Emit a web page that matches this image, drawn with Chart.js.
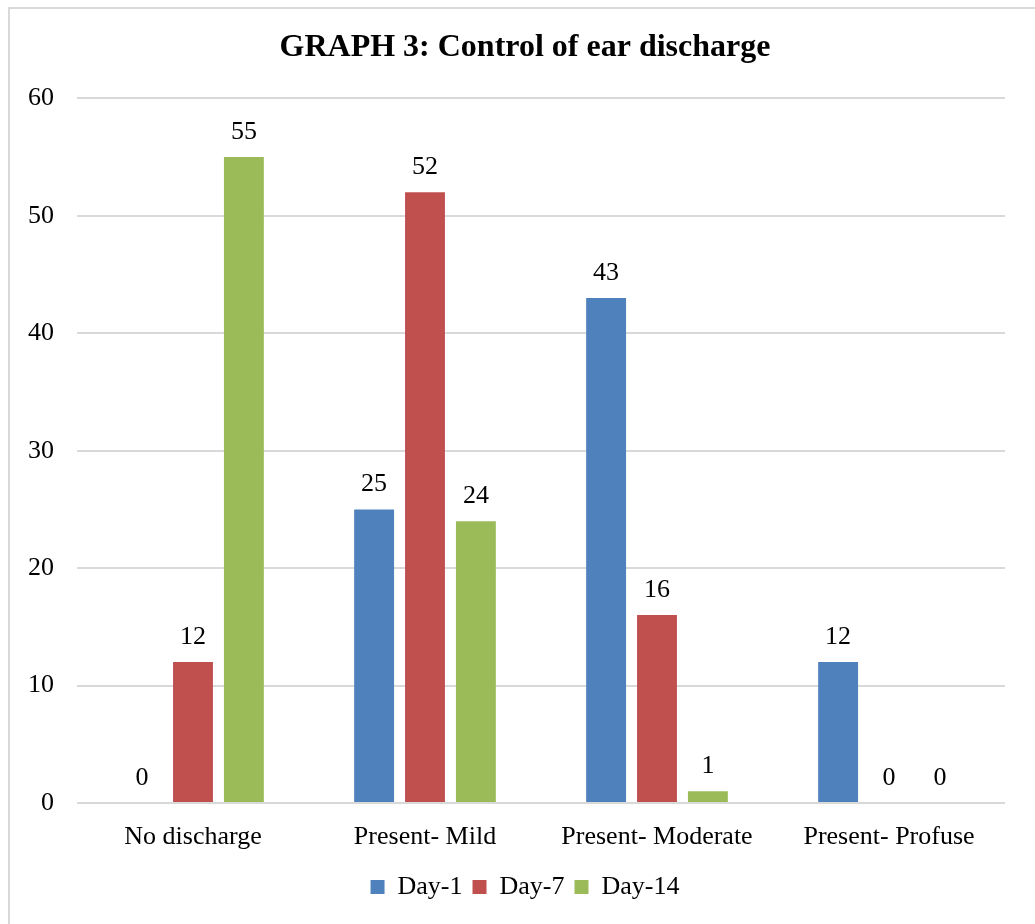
<!DOCTYPE html>
<html>
<head>
<meta charset="utf-8">
<script src="https://cdn.jsdelivr.net/npm/chart.js@4"></script>
<style>
  body { margin: 0; background: #fff; }
  #wrap { position: relative; width: 1035px; height: 924px; overflow: hidden; }
  #frame { position: absolute; left: 8px; top: 7px; width: 1100px; height: 1000px; border: 2px solid #d9d9d9; }
  #myChart { position: absolute; left: 0; top: 0; }
</style>
</head>
<body>
<div id="wrap">
  <div id="frame"></div>
  <canvas id="myChart" width="1035" height="924"></canvas>
</div>
<script>
const categories = ["No discharge", "Present- Mild", "Present- Moderate", "Present- Profuse"];
const day1 = [0, 25, 43, 12];
const day7 = [12, 52, 16, 0];
const day14 = [55, 24, 1, 0];

const serif = "'Liberation Serif', 'Times New Roman', serif";

// value labels above every bar, zeros included
const barLabels = {
    id: "barLabels",
    afterDatasetsDraw(chart) {
        const ctx = chart.ctx;
        ctx.save();
        ctx.font = "26px " + serif;
        ctx.fillStyle = "#000";
        ctx.textAlign = "center";
        ctx.textBaseline = "middle";
        chart.data.datasets.forEach((ds, i) => {
            chart.getDatasetMeta(i).data.forEach((bar, j) => {
                ctx.fillText(ds.data[j], bar.x, bar.y - 25);
            });
        });
        ctx.restore();
    }
};

const ctx = document.getElementById("myChart").getContext("2d");
const myChart = new Chart(ctx, {
    type: "bar",
    data: {
        labels: categories,
        datasets: [
            { label: "Day-1", data: day1, backgroundColor: "#4F81BD" },
            { label: "Day-7", data: day7, backgroundColor: "#C0504D" },
            { label: "Day-14", data: day14, backgroundColor: "#9BBB59" }
        ]
    },
    options: {
        responsive: false,
        animation: false,
        categoryPercentage: 0.658,
        barPercentage: 0.784,
        layout: { padding: { left: 15, right: 0, top: 0, bottom: 14 } },
        plugins: {
            title: {
                display: true,
                text: "GRAPH 3: Control of ear discharge",
                color: "#000",
                font: { family: serif, size: 32, weight: "bold", lineHeight: 1.2 },
                padding: { top: 29, bottom: 31 }
            },
            legend: {
                position: "bottom",
                labels: {
                    color: "#000",
                    font: { family: serif, size: 26 },
                    boxWidth: 14,
                    boxHeight: 14,
                    padding: 10
                }
            },
            tooltip: { enabled: false }
        },
        scales: {
            x: {
                grid: { display: false },
                border: { display: false },
                ticks: { color: "#000", font: { family: serif, size: 26 }, padding: 11 },
                afterFit(scale) { scale.height = 61; }
            },
            y: {
                min: 0,
                max: 60,
                ticks: { stepSize: 10, color: "#000", font: { family: serif, size: 26 }, padding: 23 },
                grid: { color: "#d9d9d9", lineWidth: 2, drawTicks: false },
                border: { display: false },
                afterFit(scale) { scale.width = 62; }
            },
            // empty right-hand axis, only keeps a margin on the right
            yRight: {
                position: "right",
                min: 0,
                max: 60,
                ticks: { display: false },
                grid: { drawOnChartArea: false, drawTicks: false },
                border: { display: false },
                afterFit(scale) { scale.width = 30; }
            }
        }
    },
    plugins: [barLabels]
});
</script>
</body>
</html>
